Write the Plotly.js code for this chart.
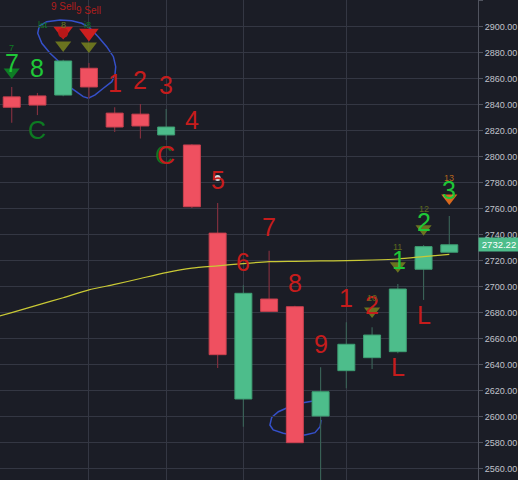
<!DOCTYPE html>
<html>
<head>
<meta charset="utf-8">
<script src="https://cdn.plot.ly/plotly-3.0.1.min.js"></script>
<style>html,body{margin:0;padding:0;background:#1b1d26;}#chart{width:518px;height:480px;}</style>
</head>
<body>
<div id="chart"></div>
<script>
// ---- data ----
const barIndex = [0,1,2,3,4,5,6,7,8,9,10,11,12,13,14,15,16,17];
const openP  = [2846,2846.7,2847.4,2868,2833.5,2832.7,2816.7,2809,2741.2,2613.6,2690.5,2684.6,2600.5,2635.4,2645.4,2650,2713.4,2726.5];
const highP  = [2853.6,2849,2874.5,2872,2838,2840.5,2836.7,2809.5,2764.4,2701,2727.7,2685.4,2638,2672.7,2668.8,2702,2732,2754.4];
const lowP   = [2826,2832,2846.5,2845,2819,2814,2812.8,2760.5,2637.5,2592.3,2681,2580,2545,2621.8,2636.7,2648.8,2689.8,2726.5];
const closeP = [2838,2839.7,2873.6,2853.6,2822.8,2823.6,2822.8,2761.5,2647.7,2694.9,2681,2580,2619.2,2655.7,2662.8,2698.2,2730.8,2732.22];
const maIndex = [-1,0,1,2,3,4,5,6,7,8,9,10,11,12,13,14,15,16,17];
const maValues = [2674.6,2680.1,2685.8,2691.5,2697.5,2701.7,2706.3,2710.8,2714.2,2716.0,2717.8,2719.2,2719.5,2719.8,2720,2720.5,2721.3,2723.1,2724.9];
const yTicks = [2560,2580,2600,2620,2640,2660,2680,2700,2720,2740,2760,2780,2800,2820,2840,2860,2880,2900,2920];
const yTickText = yTicks.map(v => v.toFixed(2));
const gridBars = [3,6,9,13];
const lastPrice = 2732.22;

// signal markers
const redTriX = [2,3], redTriY = [2896.7,2895.2];
const oliveTriX = [2,3,14,15,16], oliveTriY = [2885.9,2885.2,2681.3,2716,2744.5];
const greenTriX = [0], greenTriY = [2865.2];
const orangeTriX = [17], orangeTriY = [2768.3];

// setup count labels
const redLabels = [
  {t:'1',x:4,y:2856.4},{t:'2',x:5,y:2859.0},{t:'3',x:6,y:2855.2},{t:'4',x:7,y:2828.2},
  {t:'5',x:8,y:2782.0},{t:'6',x:9,y:2719},{t:'7',x:10,y:2745.9},{t:'8',x:11,y:2702.8},
  {t:'9',x:12,y:2655.9},{t:'1',x:13,y:2691.2},{t:'2',x:14,y:2685.9},
  {t:'L',x:15,y:2638.2},{t:'L',x:16,y:2678.2},{t:'C',x:6,y:2801.3}
];
const greenLabels = [
  {t:'7',x:0,y:2872.1},{t:'8',x:1,y:2868.2},{t:'1',x:15.05,y:2720.5},{t:'2',x:16,y:2749.8},{t:'3',x:17,y:2774.4}
];
const countLabels = [
  {t:'10',x:14,y:2691},{t:'11',x:15,y:2730.8},{t:'12',x:16,y:2759.8}
];
const sellLabels = [{t:'9 Sell',x:2,y:2915.2},{t:'9 Sell',x:3,y:2912.8}];

// ---- colours ----
const GREEN='#4dbd8b', RED='#ef5060';
const upDown = closeP.map((c,i)=> c>=openP[i]);

const wick = {
  type:'bar', x:barIndex, base:lowP, y:highP.map((h,i)=>h-lowP[i]), width:0.045,
  marker:{color:upDown.map(u=>u?'#3a6257':'#82303e'), line:{width:0}},
  hoverinfo:'skip', showlegend:false
};
const body = {
  type:'bar', x:barIndex,
  base:openP.map((o,i)=>Math.min(o,closeP[i])),
  y:openP.map((o,i)=>Math.max(Math.abs(closeP[i]-o),0.6)), width:0.66,
  marker:{color:upDown.map(u=>u?GREEN:RED), line:{width:1,color:upDown.map(u=>u?'#3e9e73':'#c9404f')}},
  hoverinfo:'skip', showlegend:false
};
const ma = {type:'scatter', mode:'lines', line:{color:'#c9c935',width:1.2,shape:'spline',smoothing:0.6}, x:maIndex, y:maValues, hoverinfo:'skip', showlegend:false};
const tri = (xs,ys,color,size)=>({type:'scatter',mode:'markers',x:xs,y:ys,marker:{symbol:'triangle-down',size:size,color:color,line:{width:0}},hoverinfo:'skip',showlegend:false});
const redTri = tri(redTriX,redTriY,'#cc1f1f',17);
const oliveTri = tri(oliveTriX,oliveTriY,'rgba(120,130,30,0.85)',14);
const greenTri = tri(greenTriX,greenTriY,'#0e7d25',14);
const orangeTri = tri(orangeTriX,orangeTriY,'#d9681e',14);
const redDot = {type:'scatter',mode:'markers',x:[2],y:[2895.2],marker:{size:10,color:'#b81818'},hoverinfo:'skip',showlegend:false};
const whiteDot = {type:'scatter',mode:'markers',x:[8],y:[2783.6],marker:{size:6,color:'#d8d8d8'},hoverinfo:'skip',showlegend:false};

const ann = [];
const FONT='Liberation Sans, Arial, sans-serif';
ann.push({x:1.2,y:2901.3,text:'lst',font:{size:9,color:'#0e7a24',family:FONT}});
ann.push({x:2,y:2901.3,text:'8',font:{size:9,color:'#6a7a1e',family:FONT}});
ann.push({x:2.95,y:2901.3,text:'i8',font:{size:9,color:'#0e7a24',family:FONT}});
ann.push({x:0,y:2883.6,text:'7',font:{size:9,color:'#0e7a24',family:FONT}});
ann.push({x:1,y:2820.5,text:'C',font:{size:25,color:'#0d7a22',family:FONT}});
ann.push({x:5.93,y:2801.3,text:'C',font:{size:25,color:'#0d7a22',family:FONT}});
redLabels.forEach(l=>ann.push({x:l.x,y:l.y,text:l.t,font:{size:25,color:'#c61c1c',family:FONT}}));
countLabels.forEach(l=>ann.push({x:l.x,y:l.y,text:l.t,font:{size:9,color:'#5e6a1e',family:FONT}}));
ann.push({x:17,y:2783.6,text:'13',font:{size:9,color:'#b5651e',family:FONT}});
greenLabels.forEach(l=>ann.push({x:l.x,y:l.y,text:l.t,font:{size:25,color:'#1fc737',family:FONT}}));
sellLabels.forEach(l=>ann.push({x:l.x,y:l.y,text:l.t,font:{size:10,color:'#b01d1d',family:FONT}}));
ann.forEach(a=>{a.xref='x';a.yref='y';a.showarrow=false;a.xanchor='center';a.yanchor='middle';});
ann.push({xref:'paper',yref:'y',x:1,y:lastPrice,xanchor:'left',yanchor:'middle',showarrow:false,
  text:lastPrice.toFixed(2),bgcolor:GREEN,borderpad:1,xshift:0,width:38,align:'center',font:{size:9.5,color:'#ffffff',family:FONT}});

const loop1 = [[1.81,2873.6],[1.49,2879.5],[1.17,2887.2],[1.01,2894.9],[1.07,2900.5],[1.36,2903.8],[1.88,2905.2],[2.33,2904.6],[2.72,2902.6],[3.04,2898.8],[3.36,2892.3],[3.69,2884.6],[3.95,2876.9],[4.04,2869.2],[4.01,2862.8],[3.89,2857.7],[3.56,2852.6],[3.24,2847.5],[2.98,2844.9],[2.78,2846.2],[2.59,2848.8],[2.33,2852.6]];
const loop2 = [[11.72,2612.1],[11.2,2610.3],[10.75,2607.2],[10.36,2603.8],[10.1,2599.5],[10.03,2593.6],[10.16,2589.8],[10.55,2587.2],[10.94,2585.9],[11.39,2585.9],[11.78,2587.7],[11.98,2592.3],[12.02,2597.5]];
const toPath = pts => 'M ' + pts.map(p=>p[0]+','+p[1]).join(' L ');
const shapes = [loop1,loop2].map(p=>({type:'path',xref:'x',yref:'y',path:toPath(p),line:{color:'#3550c9',width:1.5},layer:'below'}));

const layout = {
  width:518, height:480,
  margin:{l:0,r:40,t:0,b:0},
  paper_bgcolor:'#1b1d26', plot_bgcolor:'#1b1d26',
  barmode:'overlay', showlegend:false,
  xaxis:{range:[-0.455,18.115], tickvals:gridBars, showticklabels:false, ticks:'', showgrid:true, gridcolor:'#343743', gridwidth:1, zeroline:false, showline:false, fixedrange:true},
  yaxis:{range:[2551.3,2920.5], side:'right', tickvals:yTicks, ticktext:yTickText, showgrid:true, gridcolor:'#343743', gridwidth:1,
    zeroline:false, showline:true, linecolor:'#50535e', linewidth:1, ticks:'outside', ticklen:4, tickcolor:'#50535e',
    tickfont:{size:9,color:'#c0c3cc',family:FONT}, fixedrange:true},
  annotations:ann, shapes:shapes
};
Plotly.newPlot('chart',[wick,body,ma,greenTri,redTri,redDot,oliveTri,orangeTri,whiteDot],layout,{staticPlot:true,displayModeBar:false});
</script>
</body>
</html>
